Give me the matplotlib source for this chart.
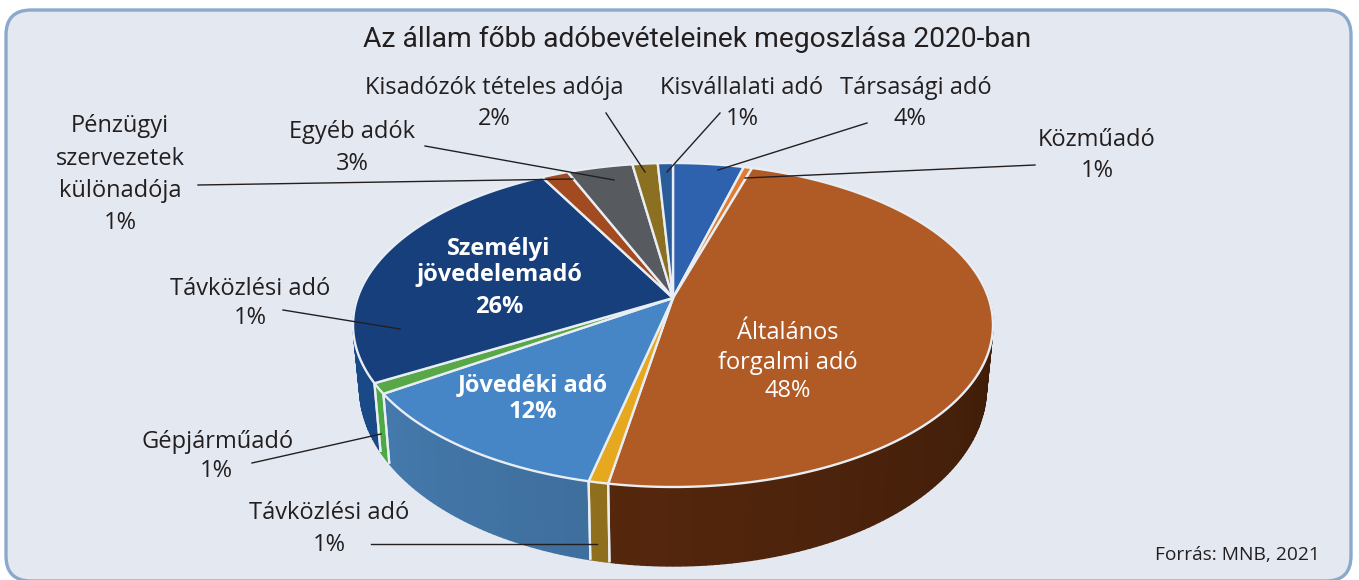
from matplotlib import pyplot as plt
from matplotlib.patches import FancyBboxPatch, Polygon
from matplotlib.colors import to_rgb
import numpy as np

# slices clockwise from 12 o'clock, shares
names = ['Társasági adó', 'Közműadó', 'Általános forgalmi adó', 'Távközlési adó', 'Jövedéki adó',
         'Gépjárműadó', 'Személyi jövedelemadó', 'Pénzügyi szervezetek különadója', 'Egyéb adók',
         'Kisadózók tételes adója', 'Kisvállalati adó']
shares = [4.2, 0.5, 48.1, 0.85, 12.1, 1.05, 25.4, 1.6, 3.9, 1.5, 0.9]
top_colors = ['#2F62AE', '#E37B2E', '#B05A26', '#E5A81E', '#4686C6', '#58A847', '#173F7C',
              '#A34B20', '#575B60', '#8B7021', '#2A5C9A']
side_colors = ['#2F62AE', '#E37B2E', '#55270D', '#8F6E1E', '#3E6E9C', '#469A3E', '#17427A',
               '#A34B20', '#575B60', '#8B7021', '#2A5C9A']

EDGE = '#E9EEF4'
DARK = '#231F20'
LABEL_FONT = 'Open Sans'


def top_xy(theta, cy=298.0, a=315.5, b=157.5):
    # perspective projection of the disc, theta in degrees clockwise from the top
    u = np.sin(np.radians(theta))
    v = np.cos(np.radians(theta))
    w = 1 + 0.1666 * v
    return 673 + a * u / w, cy - b * v / w


def bottom_xy(theta):
    return top_xy(theta, cy=358.4, a=309.0, b=173.0)


fig = plt.figure(figsize=(13.59, 5.8), dpi=100)
ax = fig.add_axes([0, 0, 1, 1])
ax.set_xlim(0, 1359)
ax.set_ylim(580, 0)
ax.axis('off')

panel = FancyBboxPatch((31, 35), 1295, 521, boxstyle='round,pad=25,rounding_size=25',
                       fc='#E4E9F1', ec='#8AA9CC', lw=2.4)
ax.add_patch(panel)

edges = np.concatenate([[0], np.cumsum(shares)]) / sum(shares) * 360

# side wall first, the top covers what is hidden
for i in range(len(shares)):
    a0, a1 = max(edges[i], 85), min(edges[i + 1], 275)
    if a1 <= a0:
        continue
    base = np.array(to_rgb(side_colors[i]))
    steps = np.linspace(a0, a1, max(2, int(a1 - a0) + 2))
    for s0, s1 in zip(steps[:-1], steps[1:]):
        # darker towards the right of the wall, a bit lighter on the left
        shade = 1 - 0.3 * np.clip((190 - s0) / 100, 0, 1) + 0.1 * np.clip((s0 - 190) / 45, 0, 1)
        col = np.clip(base * shade, 0, 1)
        x0, y0 = top_xy(s0)
        x1, y1 = top_xy(s1)
        x2, y2 = bottom_xy(s1)
        x3, y3 = bottom_xy(s0)
        ax.add_patch(Polygon([(x0, y0), (x1, y1), (x2, y2), (x3, y3)], fc=col, ec=col, lw=1.0))
    for a in (a0, a1):
        if 85 < a < 275:
            x0, y0 = top_xy(a)
            x1, y1 = bottom_xy(a)
            ax.plot([x0, x1], [y0, y1], color=EDGE, lw=1.6, solid_capstyle='butt')

# top surface
for i in range(len(shares)):
    t = np.linspace(edges[i], edges[i + 1], max(3, int(shares[i] * 4)))
    x, y = top_xy(t)
    cx, cy = top_xy(0.0, b=0.0)
    ax.add_patch(Polygon(np.column_stack([np.r_[cx, x], np.r_[cy, y]]), fc=top_colors[i], ec=EDGE,
                         lw=1.7, joinstyle='round'))

# leader lines
leaders = [((606, 113), (645, 172)), ((720, 113), (667, 172)), ((867, 123), (718, 170)),
           ((1035, 165), (745, 178)), ((198, 185), (573, 179)), ((425, 146), (614, 180)),
           ((283, 310), (400, 329)), ((252, 463), (381, 434)), ((371, 544), (597, 544))]
for p0, p1 in leaders:
    ax.plot([p0[0], p1[0]], [p0[1], p1[1]], color=DARK, lw=1.0)


def label(x, y, s, color=DARK, size=17.0, weight='normal', ha='center'):
    ax.text(x, y + 2, s, color=color, fontsize=size, fontweight=weight, ha=ha, va='center',
            family=LABEL_FONT)


ax.text(697, 39, 'Az állam főbb adóbevételeinek megoszlása 2020-ban', fontsize=20.3, family='Roboto',
        color=DARK, ha='center', va='center')

label(494, 86, 'Kisadózók tételes adója')
label(494, 117, '2%')
label(742, 86, 'Kisvállalati adó')
label(742, 117, '1%')
label(916, 86, 'Társasági adó')
label(910, 117, '4%')
label(1097, 138, 'Közműadó')
label(1097, 169, '1%')
label(120, 124, 'Pénzügyi')
label(120, 157, 'szervezetek')
label(120, 189, 'különadója')
label(120, 221, '1%')
label(352, 130, 'Egyéb adók')
label(352, 162, '3%')
label(250, 287, 'Távközlési adó')
label(250, 316, '1%')
label(218, 440, 'Gépjárműadó')
label(216, 469, '1%')
label(329, 511, 'Távközlési adó')
label(329, 543, '1%')

label(499, 247, 'Személyi', color='white', weight='bold')
label(499, 273, 'jövedelemadó', color='white', weight='bold')
label(499, 305, '26%', color='white', weight='bold')
label(533, 383, 'Jövedéki adó', color='white', weight='bold')
label(533, 410, '12%', color='white', weight='bold')
label(788, 331, 'Általános', color='white')
label(788, 361, 'forgalmi adó', color='white')
label(788, 389, '48%', color='white')

label(1320, 553, 'Forrás: MNB, 2021', size=13.8, ha='right')

fig.savefig('out.png', dpi=100)
